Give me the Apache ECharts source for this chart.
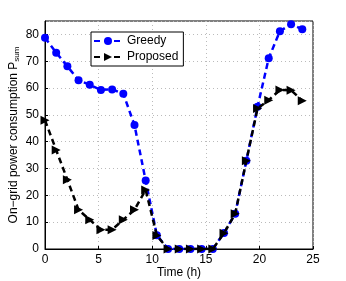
<!DOCTYPE html>
<html><head><meta charset="utf-8">
<script src="https://cdn.jsdelivr.net/npm/echarts@6/dist/echarts.min.js"></script>
<style>html,body{margin:0;padding:0;background:#fff}#c{width:346px;height:281px}</style>
</head><body><div id="c"></div>
<script>
var hours = [0,1.0435,2.087,3.1304,4.1739,5.2174,6.2609,7.3043,8.3478,9.3913,10.4348,11.4783,12.5217,13.5652,14.6087,15.6522,16.6957,17.7391,18.7826,19.8261,20.8696,21.913,22.9565,24];
var greedy = [78.8,73.2,68.1,62.9,61.2,59.3,59.5,57.9,46.2,25.5,5.1,0,0,0,0,0,6,13.1,32.9,53,71.1,81.2,83.8,81.9];
var proposed = [48,36.9,25.8,14.6,10.9,7.2,7.2,10.9,14.6,22,5,0,0,0,0,0,5.9,13.1,32.9,52.4,55.5,59.3,59.2,55.3];
var xTicks = [0,5,10,15,20,25];
var yTicks = [0,10,20,30,40,50,60,70,80];

function pairs(v){ return hours.map(function(h,i){ return [h, v[i]]; }); }
var font = 'Liberation Sans';
var chart = echarts.init(document.getElementById('c'), null, {renderer:'canvas'});
chart.setOption({
  animation:false,
  grid:{left:45,right:33,top:21,bottom:32,outerBoundsMode:'none',containLabel:false,show:true,borderColor:'#000',borderWidth:1,backgroundColor:'#fff'},
  legend:{
    left:91, top:32, orient:'vertical', itemWidth:28, itemHeight:10, itemGap:4,
    borderColor:'#000', borderWidth:1, padding:[3,5,3,2], backgroundColor:'#fff',
    textStyle:{fontFamily:font,fontSize:12,color:'#000'},
    data:['Greedy','Proposed']
  },
  xAxis:{
    type:'value', min:0, max:25, interval:5,
    name:'Time (h)', nameLocation:'middle', nameGap:18, nameMoveOverlap:false,
    nameTextStyle:{fontFamily:font,fontSize:12,color:'#000'},
    axisLine:{lineStyle:{color:'#000'}},
    axisTick:{inside:true,length:3,lineStyle:{color:'#000'}},
    axisLabel:{fontFamily:font,fontSize:12,color:'#000',margin:5,formatter:function(v){return xTicks.indexOf(v)>=0?String(v):'';}},
    splitLine:{show:true,lineStyle:{color:'#bbb',type:[1,3],width:1}}
  },
  yAxis:{
    type:'value', min:0, max:85, interval:10,
    name:'{a|On\u2212grid power consumption P}{b|sum}', nameLocation:'middle', nameGap:24, nameRotate:90, nameMoveOverlap:false,
    nameTextStyle:{fontFamily:font,fontSize:12,color:'#000',
      rich:{a:{fontFamily:font,fontSize:12,color:'#000'},b:{fontFamily:font,fontSize:8,color:'#000',verticalAlign:'bottom',padding:[6,0,0,0]}}},
    axisLine:{lineStyle:{color:'#000'}},
    axisTick:{inside:true,length:3,lineStyle:{color:'#000'}},
    axisLabel:{fontFamily:font,fontSize:12,color:'#000',margin:6,showMaxLabel:false,formatter:function(v){return yTicks.indexOf(v)>=0?String(v):'';}},
    splitLine:{show:true,lineStyle:{color:'#bbb',type:[1,3],width:1}}
  },
  series:[
    {name:'Greedy',type:'line',data:pairs(greedy),symbol:'circle',symbolSize:8,
     lineStyle:{color:'#0000ff',width:2.5,type:[6,4]},itemStyle:{color:'#0000ff'},z:2},
    {name:'Proposed',type:'line',data:pairs(proposed),symbol:'triangle',symbolRotate:-90,symbolSize:9,
     lineStyle:{color:'#000',width:2.5,type:[6,4]},itemStyle:{color:'#000'},z:3}
  ]
});
</script></body></html>
